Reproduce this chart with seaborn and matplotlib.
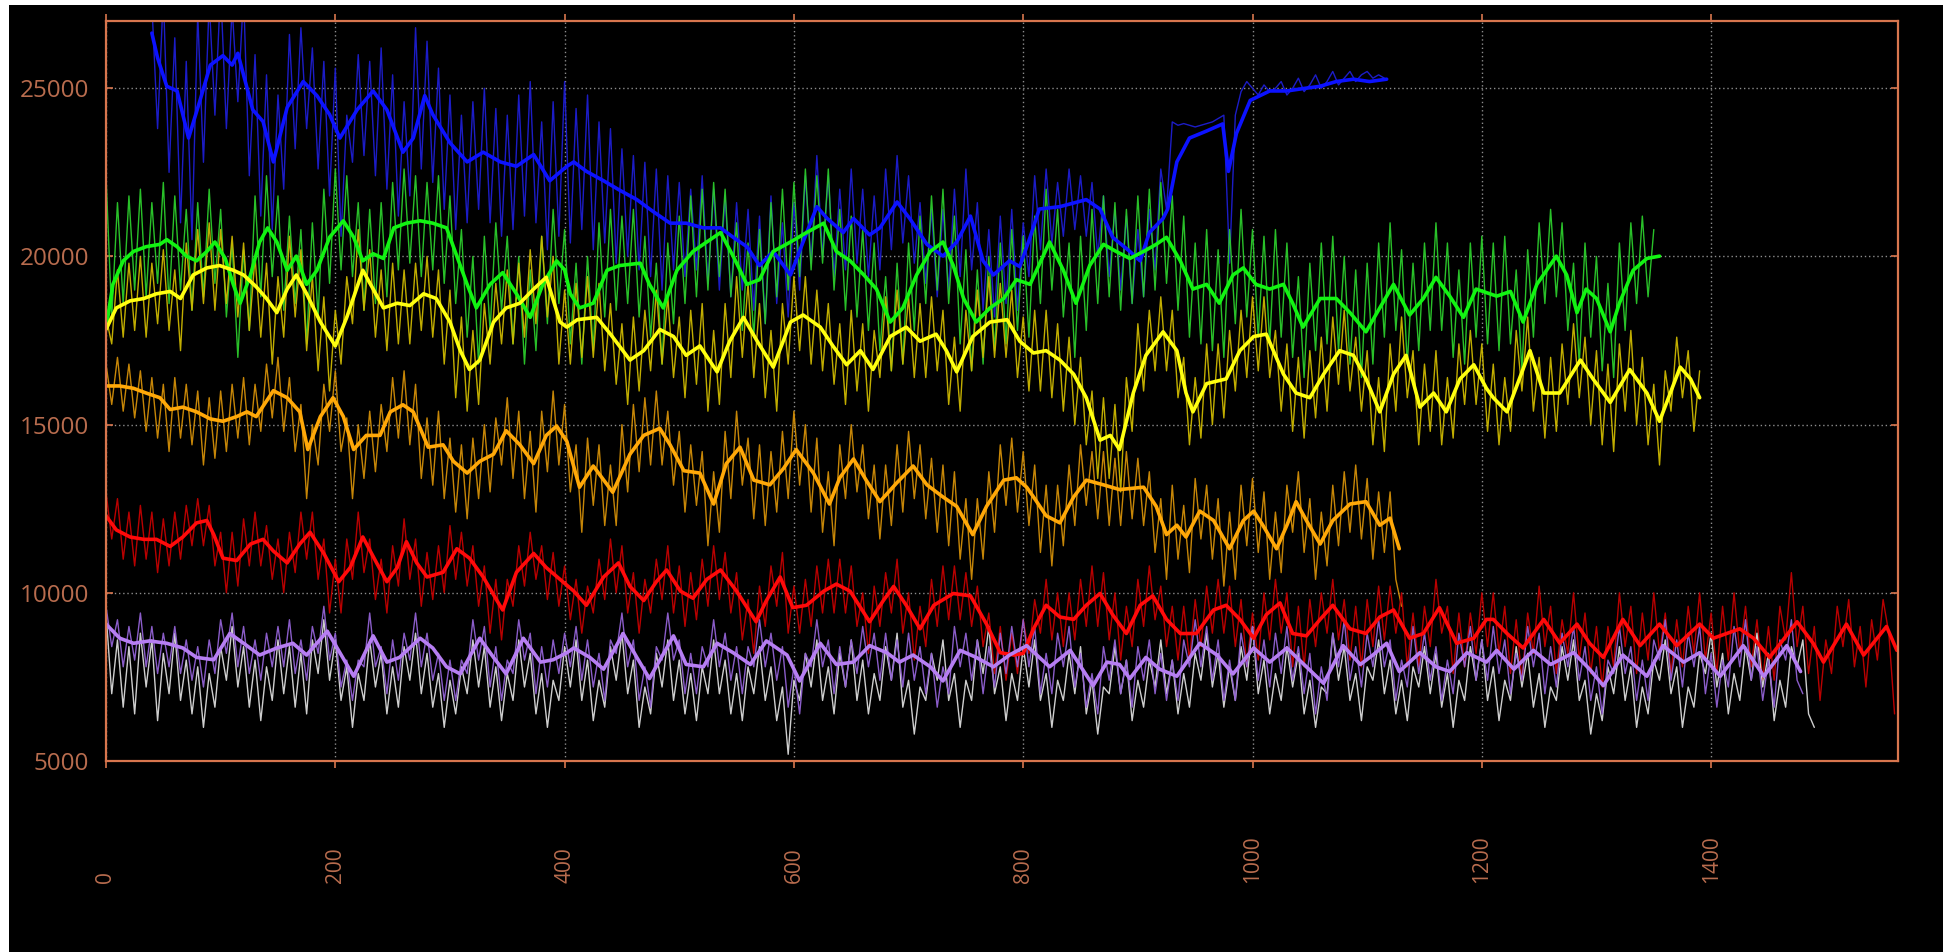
import numpy as np
import matplotlib
matplotlib.use("Agg")
import matplotlib.pyplot as plt
from matplotlib.patches import Rectangle
import seaborn as sns

# ---------------- data ----------------
STEP = 5
x_ticks = [0, 200, 400, 600, 800, 1000, 1200, 1400]
y_ticks = [5000, 10000, 15000, 20000, 25000]

blue_start = 40
blue_raw = [
27500,23800,27800,22500,26500,21000,25800,20500,27200,22800,
27600,24200,28000,23800,27400,24600,27800,22400,26000,21200,
25400,20800,24800,22000,26600,23200,26800,23800,26200,22600,
25800,21800,25600,20600,24200,22800,26000,23000,25800,22400,
26200,22000,25400,21200,24600,21800,26800,22600,26400,22200,
25600,21400,24800,20800,24200,21000,24600,21400,25000,21000,
24400,20600,24200,20800,24800,21200,25200,21000,24000,20200,
24600,20600,25200,20400,24400,20800,24800,20200,24000,20400,
23800,19800,23200,20000,23000,19600,22800,19400,22600,19000,
22400,19600,22200,19400,22000,19600,22400,19200,22000,19000,
21800,18800,21600,19000,21400,18400,21200,18000,21800,18600,
21000,18200,21600,19000,22400,19800,23000,20000,22400,19400,
22000,19600,22600,19800,22000,19400,21800,19600,22600,20200,
23000,20400,22400,19800,21600,19200,21400,18800,21400,19000,
22000,19400,22600,19600,21600,18400,20800,18200,21200,18600,
21400,18400,21000,19400,22400,20200,22600,20400,22200,20600,
22600,20800,22400,20600,22200,20000,21800,19400,21400,19000,
21200,18600,20800,18800,21400,19600,22600,21400,24000,23900,
23950,23900,23850,23900,23950,24000,24100,24200,19800,24200,
24900,25200,25000,24800,25100,24900,25000,25200,24800,25000,
25300,24900,25100,25400,25000,25200,25500,25100,25300,25500,
25200,25400,25500,25300,25400,25300]
blue_smooth = [
(40,26640),(45,25900),(53,25060),(62,24920),(72,23520),(82,24640),(91,25690),(102,25970),
(110,25690),(115,26040),(128,24360),(137,24010),(146,22810),(158,24430),(172,25200),(184,24780),
(195,24220),(204,23520),(219,24360),(233,24920),(245,24360),(259,23100),(268,23520),(278,24780),
(285,24220),(300,23380),(315,22810),(329,23100),(344,22810),(358,22680),(373,23030),(387,22250),
(402,22680),(408,22810),(419,22530),(434,22250),(448,21970),(463,21690),(477,21340),(492,20990),
(506,20990),(521,20850),(536,20850),(547,20570),(559,20290),(570,19730),(582,20150),(597,19450),
(608,20430),(620,21480),(629,21130),(643,20710),(652,21130),(666,20640),(675,20850),(690,21620),
(701,21130),(716,20360),(730,20010),(742,20430),(754,21200),(765,19870),(774,19450),(788,19870),
(797,19700),(806,20570),(814,21410),(832,21480),(855,21690),(867,21410),(878,20570),(893,20150),
(902,19870),(910,20710),(922,21130),(926,21410),(934,22810),(945,23520),(960,23730),(974,23940),
(979,22530),(986,23660),(998,24640),(1015,24920),(1030,24920),(1044,24990),(1059,25060),
(1073,25200),(1088,25270),(1102,25200),(1117,25270)]

green_start = 0
green_raw = [
22400,18200,21600,18600,21800,19000,22000,18800,21600,19200,
22200,18600,21800,19000,21400,18400,21600,18800,22000,19200,
21400,18200,20400,17000,20200,17800,21800,18800,22400,19400,
21800,18400,21200,18600,20800,17400,21000,18200,22000,19200,
22600,19600,22400,19400,21600,18400,21400,18600,21600,18800,
22200,19600,22600,19800,22400,19400,22200,19600,22400,19200,
21800,18600,20800,17600,20000,16800,20600,17800,21000,18400,
20600,17400,20000,16800,19600,17200,20600,18000,21400,18600,
20800,17400,19800,16800,20000,17200,21000,18200,21400,18400,
21200,18600,21400,18200,20600,17600,19800,16800,20400,18000,
21200,18600,21800,18800,22000,19000,22200,19400,22000,18800,
21000,17800,20400,17600,20800,18000,21600,18800,22000,19000,
22200,19400,22600,19600,22400,19800,22600,19000,21400,18400,
21200,18200,20800,17800,20400,17200,19400,16600,19800,16800,
20400,17800,21200,18600,21800,19000,22000,18600,21200,17400,
20200,16600,19600,16800,20000,17200,20400,17400,20800,17800,
20600,17600,21200,18600,22000,19000,21400,18200,20400,17000,
20600,17800,21400,18600,21800,18800,21600,18400,21400,18600,
21800,18800,22000,19000,22200,19200,21800,18400,21200,17600,
20400,17400,20800,17200,20200,17000,20800,18000,21400,18200,
20800,17600,20600,17400,20800,17600,20400,17000,19400,16400,
19800,17200,20400,17400,20600,17200,20000,16800,19600,16400,
19800,16800,20400,17600,21000,17800,20200,16800,19800,17200,
20400,17800,21000,17800,20400,17000,19600,16800,20400,17600,
20600,17400,20400,17200,20600,17400,19600,16600,20200,17600,
21000,18600,21400,18800,21000,17800,19800,16800,20400,17600,
20000,16600,19200,16400,20400,17800,21000,18600,21200,18800,
20800]
green_smooth = [
(0,17850),(6,19170),(15,19870),(24,20150),(35,20290),(47,20360),(53,20500),(62,20290),(70,20010),
(79,19870),(88,20150),(95,20430),(104,19940),(111,19170),(117,18610),(126,19450),(134,20430),
(141,20850),(149,20430),(158,19590),(166,20010),(175,19170),(184,19590),(195,20570),(207,21060),
(216,20570),(224,19870),(233,20080),(242,19940),(251,20850),(262,20990),(274,21060),(285,20990),
(297,20850),(306,20010),(315,19170),(323,18470),(335,19170),(346,19520),(358,18890),(370,18190),
(381,19170),(393,19870),(400,19600),(405,18890),(413,18470),(425,18610),(437,19590),(448,19730),
(466,19800),(474,19170),(486,18470),(498,19590),(512,20150),(524,20430),(536,20710),(547,20010),
(559,19170),(570,19310),(582,20150),(597,20430),(611,20710),(626,20990),(637,20150),(649,19870),
(661,19450),(672,19030),(684,18050),(695,18470),(707,19450),(719,20150),(730,20430),(739,19730),
(748,18750),(759,18050),(771,18470),(783,18750),(794,19310),(806,19170),(823,20430),(835,19590),
(846,18610),(858,19730),(870,20360),(881,20150),(893,19940),(905,20150),(916,20360),(925,20570),
(937,19870),(948,19030),(960,19170),(971,18610),(983,19450),(992,19660),(1003,19170),(1015,19030),
(1027,19170),(1035,18610),(1044,17900),(1059,18750),(1073,18750),(1085,18330),(1099,17760),
(1111,18470),(1123,19170),(1137,18260),(1149,18750),(1160,19380),(1172,18820),(1184,18190),
(1195,19030),(1213,18820),(1225,18960),(1236,18050),(1248,19170),(1265,20010),(1274,19450),
(1283,18330),(1291,19030),(1300,18750),(1312,17760),(1320,18610),(1332,19590),(1344,19940),
(1355,20010)]

yellow_start = 0
yellow_raw = [
18200,17400,19600,17600,19800,17800,20000,17600,19800,18000,
20200,17800,19600,17200,20400,18400,20800,18600,21000,18400,
20800,18600,20600,18200,20400,17800,20000,17600,19800,16800,
19400,17600,20600,18200,20200,17200,19400,16600,18800,16000,
18400,16800,19400,18000,20800,18400,20200,17600,19600,17200,
19800,17400,19600,17400,19800,17800,20000,17600,19600,16800,
19000,15800,18200,15400,17800,15600,18600,16800,19200,17400,
19600,17400,19800,17600,20200,18000,20600,18200,20000,16800,
19000,16800,19200,17000,19400,17000,19200,16600,18600,16200,
18000,15600,18200,16000,18400,16600,19000,16800,18800,16400,
18200,15800,18400,16200,18600,15400,17800,15600,18600,16400,
19400,17000,19200,16400,18600,15800,17800,15400,18600,16800,
19400,17200,19400,16800,19000,16600,18600,16200,18000,15600,
18400,16000,18000,15400,17800,16400,18800,16600,19000,16800,
18800,16400,18600,16400,18800,16600,18400,15600,17600,15400,
18400,16600,19000,17000,19400,17000,19200,17000,19000,16400,
18200,16000,18400,16000,18400,15800,18000,15400,17600,15000,
17000,14400,16000,13400,15800,13400,15600,13000,16400,14800,
18000,16000,18400,16600,18800,16600,18400,15800,17000,14400,
16400,14600,17400,15000,17400,15200,17800,16000,18400,16400,
18800,16600,18800,16400,17800,15400,17400,14800,17000,14600,
17200,15200,17600,15400,18200,16200,18400,16000,17600,15400,
17200,14400,16400,14200,17400,15400,18200,15800,17200,14400,
16800,14800,17200,14400,16400,14600,17400,15600,17800,15600,
17400,14800,16800,14400,16400,14800,17800,16000,18200,15400,
17000,14600,17000,14800,17400,15600,18000,15800,17600,15000,
17200,14400,16800,14200,17400,15400,17800,15000,17000,14400,
16200,13800,16600,15400,17600,15800,17200,14800,16600]
yellow_smooth = [
(0,17830),(9,18470),(21,18680),(33,18750),(44,18890),(56,18960),(65,18750),(76,19450),(88,19660),
(99,19730),(111,19590),(120,19450),(131,19100),(140,18750),(149,18330),(158,19030),(166,19450),
(175,18890),(187,18050),(200,17340),(210,18190),(224,19590),(233,19030),(242,18470),(254,18610),
(265,18540),(277,18890),(288,18750),(300,18050),(309,17200),(317,16640),(326,16920),(338,18050),
(349,18470),(361,18610),(373,19030),(384,19380),(396,18050),(402,17900),(411,18120),(428,18190),
(440,17690),(457,16920),(469,17200),(483,17830),(495,17620),(506,17060),(518,17340),(533,16570),
(544,17480),(556,18190),(568,17480),(582,16710),(597,18050),(608,18260),(623,17900),(634,17340),
(646,16780),(658,17200),(669,16640),(684,17620),(698,17900),(710,17480),(724,17690),(733,17200),
(742,16570),(756,17620),(771,18050),(786,18120),(797,17480),(809,17130),(820,17200),(832,16920),
(844,16500),(855,15800),(867,14540),(876,14680),(884,14260),(896,15940),(907,17060),(922,17760),
(934,17200),(942,15940),(948,15380),(960,16220),(977,16360),(989,17200),(1001,17620),(1012,17690),
(1027,16500),(1038,15940),(1050,15800),(1062,16500),(1076,17200),(1088,17060),(1099,16360),
(1111,15380),(1123,16500),(1134,17060),(1146,15520),(1158,15940),(1169,15380),(1181,16360),
(1193,16780),(1204,16080),(1210,15800),(1222,15380),(1242,17200),(1254,15940),(1268,15940),
(1286,16920),(1297,16360),(1312,15660),(1329,16640),(1344,15940),(1355,15100),(1373,16710),
(1382,16360),(1390,15800)]

orange_start = 0
orange_raw = [
16800,15600,17000,15400,16800,15200,16600,14800,16400,14600,
16200,14200,16400,14600,16200,14400,16000,13800,15800,14000,
16000,14200,16200,14600,16400,14400,16200,14800,16800,15200,
17000,14800,16400,14200,15600,12800,15000,13800,16200,14800,
16600,14200,15200,12800,15000,13400,15400,13600,15600,14200,
16400,14600,16600,14400,16200,13400,15200,13200,15400,12800,
14600,12400,14400,12200,14600,12800,15000,13000,15200,13800,
15800,13400,15400,12800,14800,12400,15400,13600,16000,13800,
15600,13000,14400,11800,14600,12600,14400,12000,13800,12000,
15000,13000,15600,13600,15800,13800,16000,13800,15400,13200,
14800,12400,14400,12600,14200,11400,13600,11800,14800,12800,
15400,13200,14600,12200,14400,12000,14200,12400,14800,12800,
15400,13200,15000,12400,14600,11800,13600,11400,14400,12800,
15000,13000,14400,12200,13800,11600,13800,12000,14400,12400,
14800,12800,14400,12200,14000,11800,13800,11400,13600,11000,
12800,10400,12800,11000,13600,11800,14400,12600,14600,12400,
14200,12000,13800,11200,13200,10800,13200,11400,13800,12000,
14400,12600,14200,12200,14200,12000,14000,12000,14200,12200,
14000,12000,13600,11200,12800,10400,13200,11000,12600,10600,
13400,11600,13200,11000,12800,10200,12400,10400,13200,11400,
13400,11200,13000,10400,12400,10600,13200,11800,13600,11200,
12800,10400,12400,10800,13200,11400,13600,11800,13800,11600,
13400,11000,13000,11200,13000,10400,9600]
orange_smooth = [
(0,16150),(12,16150),(24,16080),(35,15940),(47,15800),(56,15450),(67,15520),(79,15380),(91,15170),
(102,15100),(114,15240),(123,15380),(131,15240),(146,16010),(158,15800),(169,15380),(176,14260),
(187,15240),(198,15800),(207,15240),(216,14260),(227,14680),(239,14680),(248,15380),(259,15590),
(268,15380),(281,14330),(294,14400),(303,13910),(315,13560),(326,13910),(338,14120),(349,14820),
(361,14400),(373,13840),(384,14680),(393,14960),(402,14500),(405,14120),(413,13140),(425,13770),
(442,12990),(457,14120),(469,14680),(483,14890),(492,14400),(504,13630),(518,13560),(530,12640),
(541,13840),(553,14330),(565,13350),(579,13210),(591,13700),(602,14260),(617,13560),(631,12640),
(640,13420),(652,13980),(663,13350),(675,12710),(690,13280),(704,13770),(716,13210),(730,12850),
(742,12570),(756,11730),(768,12570),(783,13350),(794,13420),(803,13140),(809,12850),(820,12290),
(832,12080),(844,12850),(855,13350),(870,13210),(884,13070),(905,13140),(916,12570),(925,11730),
(934,12010),(942,11660),(954,12430),(966,12150),(980,11310),(992,12150),(1001,12430),(1009,12010),
(1021,11310),(1030,12010),(1038,12710),(1047,12150),(1059,11450),(1070,12150),(1085,12640),
(1099,12710),(1111,12010),(1120,12220),(1128,11310)]

red_start = 0
red_raw = [
13000,11600,12800,11000,12400,10800,12600,11000,12400,10600,
12200,10800,12400,11000,12600,11400,12800,11400,12600,10800,
11800,10000,11800,10200,12200,10800,12400,10800,12000,10400,
11600,10000,11800,10600,12400,11000,12400,10400,11600,9400,
11000,9400,11600,10400,12400,10600,11600,9800,11000,9400,
11400,10200,12200,10400,11600,9600,11200,9800,11400,10000,
12000,10400,11800,10200,11400,9600,10800,8800,10400,8600,
10400,9600,11400,10200,11800,10400,11400,9800,11200,9600,
10800,9200,10400,8800,10200,9400,11000,9800,11600,10000,
11400,9400,10600,8800,10400,9400,11000,9800,11400,9400,
10800,9000,10600,9200,11000,9600,11400,9800,11200,9400,
10600,8600,9800,8200,10200,9000,10800,9600,11200,8800,
10200,8800,10400,9000,10800,9400,11000,9400,11000,9400,
10800,9000,10000,8200,10200,9000,10600,9400,11000,8800,
10000,8000,9600,8400,10400,9000,10800,9200,10800,9200,
10600,9000,10200,8400,9400,7600,9000,7400,8800,7600,
9200,8200,9800,8800,10400,8600,10000,8400,10000,8600,
10400,9000,10800,9000,10600,8600,10000,8000,9600,8400,
10400,9000,10800,9200,10200,8400,9600,8000,9600,8000,
9800,8400,10200,8800,10400,8800,10200,8400,9800,7800,
9400,8000,10000,8600,10400,8800,10000,7800,9600,7800,
9800,8400,10000,8800,10400,8600,9800,8000,9600,7800,
9800,8400,10200,8600,10200,8800,10000,7800,9400,7800,
9600,8400,10400,8800,9600,7600,9400,7800,9400,8200,
10000,8400,10000,8200,9600,7600,9200,7400,9400,8200,
10200,8400,9600,7600,9200,8200,10000,8000,9400,7600,
9000,7200,9000,7800,10000,8400,9600,7600,9400,8000,
10000,8200,9400,7600,9200,7800,9600,8200,10000,8000,
9400,7600,9600,8000,10000,8200,9600,7800,9200,7400,
9000,7400,9600,8600,10600,8400,9600,7600,9000,6800,
8600,7600,9600,8400,9800,7800,9000,7200,9200,8000,
9800,8800,6400]
red_smooth = [
(0,12290),(9,11870),(21,11660),(33,11590),(44,11590),(56,11380),(67,11660),(79,12080),(88,12150),
(94,11730),(102,11030),(114,10960),(126,11450),(137,11590),(146,11240),(158,10890),(169,11450),
(178,11800),(190,11170),(203,10330),(213,10750),(224,11660),(236,10890),(245,10330),(254,10750),
(262,11520),(271,10890),(280,10470),(294,10610),(306,11310),(317,11030),(329,10470),(341,9770),
(346,9490),(358,10610),(373,11170),(384,10750),(396,10400),(408,10050),(419,9630),(434,10470),
(447,10890),(457,10190),(469,9770),(480,10330),(489,10680),(501,10050),(512,9840),(524,10400),
(536,10680),(550,10050),(567,9140),(576,9770),(588,10470),(599,9560),(611,9630),(626,10050),
(637,10260),(649,10050),(666,9140),(678,9770),(687,10190),(698,9630),(710,8930),(722,9630),
(739,9980),(754,9910),(768,9070),(780,8220),(792,8150),(800,8200),(809,8930),(820,9630),
(832,9280),(844,9210),(855,9630),(867,9980),(878,9350),(890,8790),(902,9630),(913,9910),
(925,9210),(937,8790),(951,8790),(966,9490),(977,9630),(989,9210),(1001,8650),(1012,9350),
(1024,9700),(1035,8790),(1047,8720),(1059,9210),(1070,9630),(1085,8930),(1099,8790),(1111,9280),
(1123,9490),(1137,8650),(1149,8790),(1163,9560),(1178,8500),(1193,8650),(1204,9210),(1210,9210),
(1222,8790),(1236,8360),(1254,9210),(1268,8500),(1283,9070),(1294,8500),(1306,8080),(1323,9210),
(1338,8430),(1355,9070),(1370,8430),(1390,9070),(1402,8650),(1425,8930),(1437,8650),(1451,8080),
(1475,9140),(1489,8500),(1498,7940),(1518,9070),(1533,8150),(1553,9000),(1562,8290)]

white_start = 0
white_raw = [
9400,7000,8600,6600,8400,6400,8800,7200,8600,6200,
8200,7000,8800,6800,8000,6400,7800,6000,7600,6600,
8400,7400,9000,7200,8400,6600,8000,6200,7800,6800,
8600,7000,8400,6600,8200,6400,8600,7600,9200,7400,
8600,6800,7800,6000,7600,6800,8600,7200,8200,6400,
7800,6600,8400,7400,8800,7000,8200,6600,7600,6000,
7400,6400,7800,7000,8600,7200,8400,6600,7800,6200,
7600,6800,8600,7200,8200,6400,7600,6000,7400,6800,
8400,7200,8600,6800,8000,6200,7400,6600,8400,7400,
8800,7000,8000,6000,7200,6400,8200,7200,8600,6800,
8000,6400,7600,6200,7800,7000,8600,7000,8000,6400,
7600,6200,7800,7000,8400,6800,7800,6200,7200,5200,
7400,6800,8200,7200,8600,6800,7800,6400,8200,7200,
8600,6800,8000,6400,7600,6800,8400,7400,8800,6600,
7400,5800,7200,6800,8200,7400,8600,6800,7600,6000,
7400,6800,8600,7600,9000,7000,7800,6200,7600,6800,
8400,7200,8600,6800,7600,6000,7400,6800,8200,7000,
8400,6400,7400,5800,7200,7000,8400,7000,8000,6200,
7400,6600,8000,7200,8600,7000,8000,6400,7600,6600,
8200,7400,8800,7200,8200,6600,7800,6800,8400,7400,
9000,7000,8000,6400,7600,6800,8400,7200,8200,6400,
7400,6000,7200,7000,8800,7400,8400,6800,7600,6200,
7800,7400,8600,7000,8000,6400,7400,6200,7800,7200,
8400,7000,8200,6600,7600,6000,7400,6800,8400,7400,
8600,6800,7800,6200,7400,6800,8400,7200,8200,6600,
7600,6000,7200,6800,8400,7400,8600,6800,7400,5800,
7000,6200,7800,7000,8400,6800,7800,6000,7200,6400,
8000,7400,8600,7000,7800,6000,7200,6600,8200,7600,
8800,7200,8200,6400,7600,6800,8400,7400,8800,7200,
8200,6200,7400,6600,8400,7800,8600,6400,6000]

purple_start = 0
purple_raw = [
9600,8400,9200,7800,9000,8000,9400,7800,9000,7600,
8800,7800,9000,7600,8600,7400,8400,7200,8600,7600,
9200,8200,9400,7800,9000,7600,8600,7400,8800,7800,
9000,7800,9200,7600,8600,7400,9000,8200,9600,8000,
8800,7200,8000,6800,8000,7800,9400,7800,8400,7000,
8600,7400,8800,8000,9400,7800,8800,7400,8200,6800,
8000,6800,8000,7600,9200,8000,9000,7200,8400,6800,
8000,7600,9200,8000,8800,7000,8400,7200,8600,7600,
8800,7800,9000,7400,8600,7200,8200,6800,8600,8200,
9400,7800,8600,6800,7800,6600,8400,8000,9400,8000,
8600,7000,8200,7000,8400,7800,9200,7800,8800,7400,
8400,7000,8400,7800,9200,7800,8800,7400,8400,6600,
7800,6400,8200,7800,9200,7800,8600,7000,8400,7200,
8600,7600,9000,7800,8800,7400,8800,7400,8600,7200,
8800,7400,8400,7000,8200,6600,7800,7000,9000,7800,
8800,7400,8600,7000,8400,7200,8800,7600,9000,7800,
9200,7800,9000,7000,8200,7000,8800,7800,9000,7200,
8200,6600,7600,6400,8400,7400,8600,7000,8000,6600,
8400,7400,8600,7000,8200,6800,8000,6800,8600,7800,
9200,7800,9000,7400,8600,6800,8000,6800,8800,7800,
9000,7400,8600,7200,8800,7600,9000,7400,8400,7000,
8200,6400,7800,6800,8800,7800,9200,7400,8400,7200,
8800,7800,9200,7800,8600,6800,8000,7200,9000,7600,
8800,7400,8400,6800,8000,7000,8800,7800,9000,7400,
8600,7400,9000,7600,8600,7000,8200,7400,9000,7800,
8800,7000,8400,7200,8800,7800,9000,7400,8400,6800,
7800,6400,8000,7600,9000,7600,8400,6800,8000,6800,
8600,8000,9200,7400,8600,7200,8800,7800,9000,7000,
8200,6600,8000,7200,9000,7800,9200,7400,8400,6800,
8000,6600,8600,8000,9200,7400,7000]
purple_smooth = [
(0,9070),(12,8650),(24,8500),(38,8570),(53,8500),(67,8360),(79,8080),(94,8010),(108,8790),
(120,8500),(134,8150),(149,8360),(163,8500),(175,8150),(193,8860),(204,8220),(216,7520),
(233,8720),(245,7940),(256,8080),(274,8650),(285,8360),(297,7800),(309,7590),(326,8650),
(338,8080),(349,7590),(364,8650),(379,7940),(390,8010),(402,8220),(408,8360),(422,8080),
(434,7730),(451,8790),(463,8080),(474,7450),(495,8720),(506,7870),(521,7800),(533,8500),
(547,8220),(562,7870),(576,8570),(594,8150),(605,7380),(623,8500),(637,7870),(652,7940),
(666,8430),(681,8220),(692,7940),(704,8150),(719,7800),(730,7380),(745,8290),(759,8080),
(774,7800),(788,8150),(803,8430),(823,7800),(841,8290),(861,7240),(873,7940),(884,7870),
(893,7450),(907,8080),(919,7730),(934,7520),(954,8500),(969,8150),(983,7590),(1001,8360),
(1015,7940),(1030,8360),(1047,7800),(1062,7310),(1079,8430),(1094,7870),(1105,8150),(1117,8500),
(1128,7660),(1146,8220),(1160,7800),(1172,7660),(1187,8220),(1204,7940),(1213,8290),(1228,7730),
(1245,8290),(1260,7870),(1280,8220),(1294,7730),(1306,7240),(1323,8150),(1344,7520),(1358,8430),
(1376,7940),(1390,8220),(1408,7520),(1428,8430),(1446,7520),(1466,8430),(1478,7660)]

# ---------------- style ----------------
sns.set_theme(style="dark")
plt.rcParams["font.family"] = ["Open Sans", "DejaVu Sans"]

SPINE = "#d8764e"
LABEL = "#b86c4e"
GRID = "#8c8c8c"

W, H = 1943, 952
fig = plt.figure(figsize=(W / 100, H / 100), dpi=100, facecolor="black")
fig.patches.append(Rectangle((0, 1 - 5 / H), 1, 5 / H, transform=fig.transFigure,
                             facecolor="white", edgecolor="none", zorder=5))
fig.patches.append(Rectangle((0, 0), 9 / W, 1, transform=fig.transFigure,
                             facecolor="white", edgecolor="none", zorder=5))

ax = fig.add_axes([106 / W, 191 / H, 1792 / W, 740 / H])
ax.set_facecolor("black")

raw_series = [
    (blue_start, blue_raw, "#1e1ed2"),
    (green_start, green_raw, "#2ccc2c"),
    (yellow_start, yellow_raw, "#cdb800"),
    (orange_start, orange_raw, "#d28e08"),
    (red_start, red_raw, "#c40000"),
    (white_start, white_raw, "#dadada"),
    (purple_start, purple_raw, "#9262d4"),
]
for start, vals, col in raw_series:
    xs = start + STEP * np.arange(len(vals))
    sns.lineplot(x=xs, y=np.array(vals), ax=ax, color=col, linewidth=1.0,
                 estimator=None, sort=False, legend=False, alpha=0.95)

smooth_series = [
    (blue_smooth, "#0c12ff"),
    (green_smooth, "#12f412"),
    (yellow_smooth, "#ffff10"),
    (orange_smooth, "#ffa808"),
    (red_smooth, "#ff0a0a"),
    (purple_smooth, "#b67ef2"),
]
for pts, col in smooth_series:
    xs = np.array([p[0] for p in pts])
    ys = np.array([p[1] for p in pts])
    sns.lineplot(x=xs, y=ys, ax=ax, color=col, linewidth=2.6, estimator=None,
                 sort=False, legend=False, solid_joinstyle="round", solid_capstyle="round")

ax.set_xlim(0, 1563)
ax.set_ylim(5000, 27000)
ax.set_xticks(x_ticks)
ax.set_yticks(y_ticks)
ax.set_xticklabels([str(v) for v in x_ticks])
ax.set_yticklabels([str(v) for v in y_ticks])
ax.set_xlabel("")
ax.set_ylabel("")

ax.set_axisbelow(True)
ax.grid(True, color=GRID, linestyle=(0, (1, 2)), linewidth=1.0)

for s in ax.spines.values():
    s.set_visible(True)
    s.set_color(SPINE)
    s.set_linewidth(1.6)

ax.tick_params(axis="x", which="major", direction="out", length=5, width=1.2,
               color=SPINE, bottom=True, top=True, labelcolor=LABEL, labelsize=15,
               labelrotation=90, pad=83)
ax.tick_params(axis="y", which="major", direction="in", length=5, width=1.2,
               color=SPINE, left=True, right=True, labelcolor=LABEL, labelsize=17.5,
               pad=12)
for lab in ax.get_xticklabels():
    lab.set_verticalalignment("bottom")

fig.savefig("out.png", dpi=100, facecolor="black")
